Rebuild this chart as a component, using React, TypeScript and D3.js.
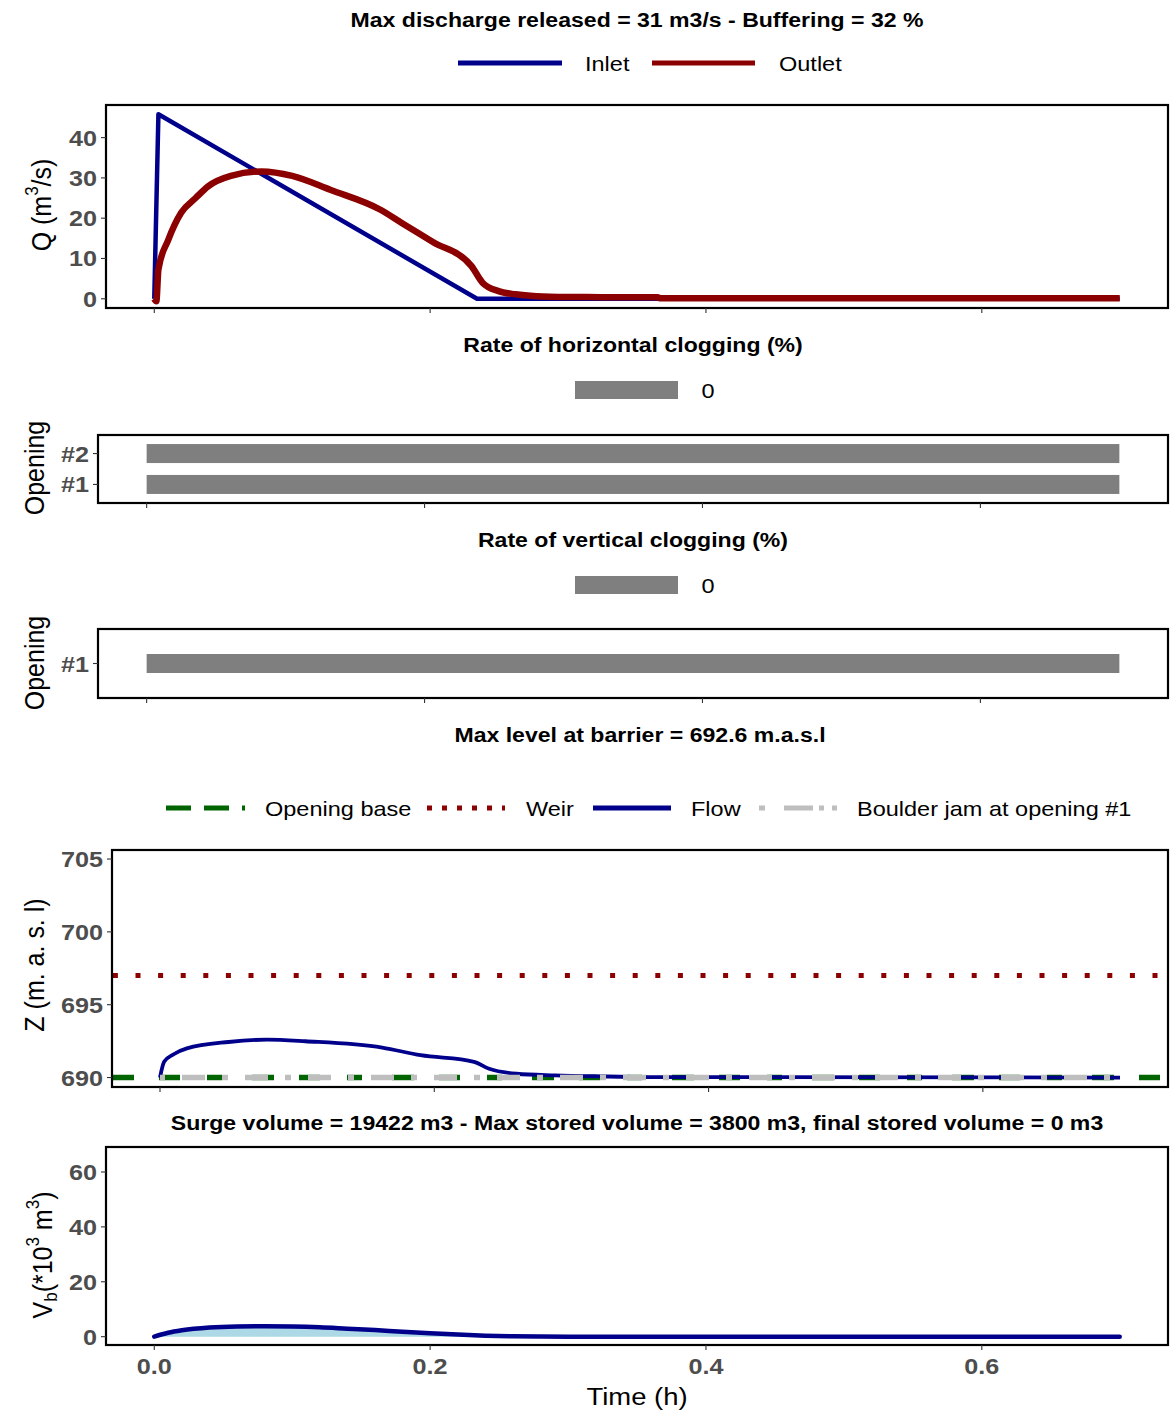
import React from "react";
import * as d3 from "d3";

// ---------------- data ----------------
const timeTicks = [0, 0.2, 0.4, 0.6];
const timeDomain = [-0.035, 0.735];

const inletT = [0, 0.003, 0.234, 0.7];
const inletQ = [0, 45.8, 0, 0];

const outletT = [0, 0.0015, 0.003, 0.01, 0.0196, 0.03, 0.039, 0.0555, 0.0777, 0.1, 0.128, 0.164, 0.18, 0.202, 0.23, 0.238, 0.2496, 0.262, 0.277, 0.3, 0.324, 0.365, 0.367, 0.7];
const outletQ = [0, -0.6, 7.3, 14.5, 21.4, 25.0, 27.9, 30.5, 31.6, 30.5, 27.0, 22.1, 18.7, 14.1, 8.1, 4.0, 1.9, 1.1, 0.65, 0.45, 0.4, 0.35, 0.1, 0.1];
const qTicks = [0, 10, 20, 30, 40];

const hOpenings = ["#1", "#2"];
const hClogging = [0, 0];
const vOpenings = ["#1"];
const vClogging = [0];
const clogStart = 0;
const clogEnd = 0.7;

const zT = [0, 0.003, 0.01, 0.0196, 0.05, 0.078, 0.106, 0.162, 0.19, 0.229, 0.24, 0.26, 0.288, 0.3205, 0.357, 0.7];
const zFlow = [690, 691.08, 691.6, 692.0, 692.44, 692.6, 692.49, 692.06, 691.53, 691.08, 690.6, 690.26, 690.15, 690.08, 690.03, 690.0];
const zTicks = [690, 695, 700, 705];
const weirLevel = 697;
const openingBase = 690;
const boulderJam = 690;

const vT = [0, 0.01, 0.02, 0.04, 0.06, 0.08, 0.1, 0.12, 0.14, 0.16, 0.18, 0.2, 0.22, 0.24, 0.26, 0.28, 0.3, 0.7];
const vVol = [0, 1.4, 2.3, 3.3, 3.7, 3.8, 3.7, 3.4, 2.9, 2.4, 1.8, 1.25, 0.75, 0.35, 0.12, 0.03, 0, 0];
const vTicks = [0, 20, 40, 60];

// ---------------- style ----------------
const FONT = "'Liberation Sans', Arial, Helvetica, sans-serif";
const SX = 1.12;
const NAVY = "#00008B";
const DARKRED = "#8B0000";
const DARKGREEN = "#006400";
const LGRAY = "#BEBEBE";
const BARGRAY = "#7F7F7F";
const TICKCOL = "#4D4D4D";

type TxtProps = { x: number; y: number; size: number; bold?: boolean; anchor?: string; fill?: string; rot?: boolean; children?: any };
function Txt({ x, y, size, bold, anchor = "middle", fill = "#000", rot = false, children }: TxtProps) {
  return (
    <text
      transform={`translate(${x},${y}) scale(${SX},1)${rot ? " rotate(-90)" : ""}`}
      fontFamily={FONT}
      fontSize={size}
      fontWeight={bold ? "bold" : "normal"}
      textAnchor={anchor as any}
      dominantBaseline="central"
      fill={fill}
    >
      {children}
    </text>
  );
}

function Box({ x0, x1, y0, y1 }: { x0: number; x1: number; y0: number; y1: number }) {
  return <rect x={x0} y={y0} width={x1 - x0} height={y1 - y0} fill="none" stroke="#000" strokeWidth={2.2} />;
}

function XTicks({ scale, y, labels }: { scale: any; y: number; labels?: boolean }) {
  return (
    <g>
      {timeTicks.map((t) => (
        <g key={t}>
          <line x1={scale(t)} x2={scale(t)} y1={y} y2={y + 5} stroke="#333" strokeWidth={1.1} />
          {labels && (
            <Txt x={scale(t)} y={y + 21} size={22.5} bold fill={TICKCOL}>
              {d3.format(".1f")(t)}
            </Txt>
          )}
        </g>
      ))}
    </g>
  );
}

function YTicks({ scale, x, ticks, fmt }: { scale: any; x: number; ticks: any[]; fmt?: (v: any) => string }) {
  return (
    <g>
      {ticks.map((v) => (
        <g key={String(v)}>
          <line x1={x - 5} x2={x} y1={scale(v)} y2={scale(v)} stroke="#333" strokeWidth={1.1} />
          <Txt x={x - 9} y={scale(v)} size={22.5} bold anchor="end" fill={TICKCOL}>
            {fmt ? fmt(v) : String(v)}
          </Txt>
        </g>
      ))}
    </g>
  );
}

export default function App() {
  // ---- panel 1: discharge ----
  const p1 = { x0: 106, x1: 1168, y0: 105, y1: 308 };
  const x1s = d3.scaleLinear().domain(timeDomain).range([p1.x0, p1.x1]);
  const yQ = d3.scaleLinear().domain([-2.29, 48.09]).range([p1.y1, p1.y0]);
  const inletPts = inletT.map((t, i) => [t, inletQ[i]] as [number, number]);
  const outletPts = outletT.map((t, i) => [t, outletQ[i]] as [number, number]);
  const qLine = d3.line<[number, number]>().x((d) => x1s(d[0])).y((d) => yQ(d[1]));
  const qLineSmooth = d3.line<[number, number]>().x((d) => x1s(d[0])).y((d) => yQ(d[1])).curve(d3.curveMonotoneX);

  // ---- panel 2: horizontal clogging ----
  const p2 = { x0: 98, x1: 1168, y0: 435, y1: 503 };
  const x2s = d3.scaleLinear().domain(timeDomain).range([p2.x0, p2.x1]);
  const y2s = d3.scalePoint<string>().domain(hOpenings).range([p2.y1, p2.y0]).padding(0.6);

  // ---- panel 3: vertical clogging ----
  const p3 = { x0: 98, x1: 1168, y0: 629, y1: 698 };
  const y3s = d3.scalePoint<string>().domain(vOpenings).range([p3.y1, p3.y0]).padding(0.6);

  // ---- panel 4: level ----
  const p4 = { x0: 112, x1: 1168, y0: 850, y1: 1087 };
  const x4s = d3.scaleLinear().domain(timeDomain).range([p4.x0, p4.x1]);
  const yZ = d3.scaleLinear().domain([689.35, 705.62]).range([p4.y1, p4.y0]);
  const zPts = zT.map((t, i) => [t, zFlow[i]] as [number, number]);
  const zLine = d3.line<[number, number]>().x((d) => x4s(d[0])).y((d) => yZ(d[1])).curve(d3.curveMonotoneX);

  // ---- panel 5: volume ----
  const p5 = { x0: 106, x1: 1168, y0: 1147, y1: 1345 };
  const x5s = d3.scaleLinear().domain(timeDomain).range([p5.x0, p5.x1]);
  const yV = d3.scaleLinear().domain([-3.04, 69.1]).range([p5.y1, p5.y0]);
  const vPts = vT.map((t, i) => [t, vVol[i]] as [number, number]);
  const vLine = d3.line<[number, number]>().x((d) => x5s(d[0])).y((d) => yV(d[1])).curve(d3.curveMonotoneX);
  const vArea = d3.area<[number, number]>().x((d) => x5s(d[0])).y0(yV(0)).y1((d) => yV(d[1])).curve(d3.curveMonotoneX);

  const barH = 19;
  const weirX0 = p4.x0;
  const weirPeriod = 22.6;
  const weirOffset = weirPeriod - ((138 - 2.5 - weirX0) % weirPeriod);

  return (
    <svg width={1172} height={1414} style={{ position: "absolute", left: 0, top: 0, background: "#fff" }}>
      <rect x={0} y={0} width={1172} height={1414} fill="#fff" />

      {/* ===== Panel 1 ===== */}
      <Txt x={637} y={20} size={20.6} bold>Max discharge released = 31 m3/s  - Buffering = 32 %</Txt>
      <line x1={458} x2={562} y1={63} y2={63} stroke={NAVY} strokeWidth={5} />
      <Txt x={585} y={64} size={21} anchor="start">Inlet</Txt>
      <line x1={652} x2={755} y1={63} y2={63} stroke={DARKRED} strokeWidth={5} />
      <Txt x={779} y={64} size={21} anchor="start">Outlet</Txt>

      <path d={qLine(inletPts) || ""} fill="none" stroke={NAVY} strokeWidth={4.5} strokeLinejoin="round" />
      <path d={qLineSmooth(outletPts) || ""} fill="none" stroke={DARKRED} strokeWidth={6.5} strokeLinejoin="round" />
      <Box {...p1} />
      <YTicks scale={yQ} x={p1.x0} ticks={qTicks} />
      <XTicks scale={x1s} y={p1.y1} />
      <Txt x={42} y={205} size={25} rot>
        Q (m<tspan dy={-9} fontSize={17}>3</tspan><tspan dy={9}>/s)</tspan>
      </Txt>

      {/* ===== Panel 2 ===== */}
      <Txt x={633} y={345} size={20.6} bold>Rate of horizontal clogging (%)</Txt>
      <rect x={575} y={381} width={103} height={18} fill={BARGRAY} />
      <Txt x={708} y={391} size={21}>{String(hClogging[0])}</Txt>
      {hOpenings.map((o) => (
        <rect key={o} x={x2s(clogStart)} y={(y2s(o) as number) - barH / 2} width={x2s(clogEnd) - x2s(clogStart)} height={barH} fill={BARGRAY} />
      ))}
      <Box {...p2} />
      <YTicks scale={y2s} x={p2.x0} ticks={hOpenings} />
      <XTicks scale={x2s} y={p2.y1} />
      <Txt x={35} y={468} size={25} rot>Opening</Txt>

      {/* ===== Panel 3 ===== */}
      <Txt x={633} y={540} size={20.6} bold>Rate of vertical clogging (%)</Txt>
      <rect x={575} y={576} width={103} height={18} fill={BARGRAY} />
      <Txt x={708} y={586} size={21}>{String(vClogging[0])}</Txt>
      {vOpenings.map((o) => (
        <rect key={o} x={x2s(clogStart)} y={(y3s(o) as number) - barH / 2} width={x2s(clogEnd) - x2s(clogStart)} height={barH} fill={BARGRAY} />
      ))}
      <Box {...p3} />
      <YTicks scale={y3s} x={p3.x0} ticks={vOpenings} />
      <XTicks scale={x2s} y={p3.y1} />
      <Txt x={35} y={663} size={25} rot>Opening</Txt>

      {/* ===== Panel 4 ===== */}
      <Txt x={640} y={735} size={20.6} bold>Max level at barrier = 692.6 m.a.s.l</Txt>
      <line x1={166} x2={245} y1={808} y2={808} stroke={DARKGREEN} strokeWidth={5} strokeDasharray="25 13" />
      <Txt x={265} y={809} size={21} anchor="start">Opening base</Txt>
      <line x1={427} x2={505} y1={808} y2={808} stroke={DARKRED} strokeWidth={5} strokeDasharray="5 10" />
      <Txt x={526} y={809} size={21} anchor="start">Weir</Txt>
      <line x1={593} x2={671} y1={808} y2={808} stroke={NAVY} strokeWidth={5} />
      <Txt x={691} y={809} size={21} anchor="start">Flow</Txt>
      <line x1={759} x2={837} y1={808} y2={808} stroke={LGRAY} strokeWidth={5} strokeDasharray="6 19 29 6 5 8 5 0" />
      <Txt x={857} y={809} size={21} anchor="start">Boulder jam at opening #1</Txt>

      <g>
        <line x1={p4.x0} x2={p4.x1} y1={yZ(openingBase)} y2={yZ(openingBase)} stroke={DARKGREEN} strokeWidth={5.5} strokeDasharray="22 25 21 27 15 30" />
        <path d={zLine(zPts) || ""} fill="none" stroke={NAVY} strokeWidth={3.8} />
        <line x1={x4s(clogStart)} x2={x4s(clogEnd)} y1={yZ(boulderJam)} y2={yZ(boulderJam)} stroke={LGRAY} strokeWidth={5.5} strokeDasharray="23 17 6 17" strokeDashoffset={-22} />
        <line x1={weirX0} x2={p4.x1} y1={yZ(weirLevel)} y2={yZ(weirLevel)} stroke={DARKRED} strokeWidth={5} strokeDasharray={`5 ${weirPeriod - 5}`} strokeDashoffset={weirOffset} />
      </g>
      <Box {...p4} />
      <YTicks scale={yZ} x={p4.x0} ticks={zTicks} />
      <XTicks scale={x4s} y={p4.y1} />
      <Txt x={35} y={965} size={25} rot>Z (m. a. s. l)</Txt>

      {/* ===== Panel 5 ===== */}
      <Txt x={637} y={1123} size={20.6} bold>Surge volume = 19422 m3 - Max stored volume = 3800 m3, final stored volume = 0 m3</Txt>
      <path d={vArea(vPts) || ""} fill="#ADD8E6" />
      <path d={vLine(vPts) || ""} fill="none" stroke={NAVY} strokeWidth={4.5} strokeLinecap="round" />
      <Box {...p5} />
      <YTicks scale={yV} x={p5.x0} ticks={vTicks} />
      <XTicks scale={x5s} y={p5.y1} labels />
      <Txt x={43} y={1255} size={25} rot>
        V<tspan dy={7} fontSize={17}>b</tspan><tspan dy={-7}>(*10</tspan><tspan dy={-9} fontSize={17}>3</tspan><tspan dy={9}> m</tspan><tspan dy={-9} fontSize={17}>3</tspan><tspan dy={9}>)</tspan>
      </Txt>
      <Txt x={637} y={1397} size={24.5}>Time (h)</Txt>
    </svg>
  );
}
